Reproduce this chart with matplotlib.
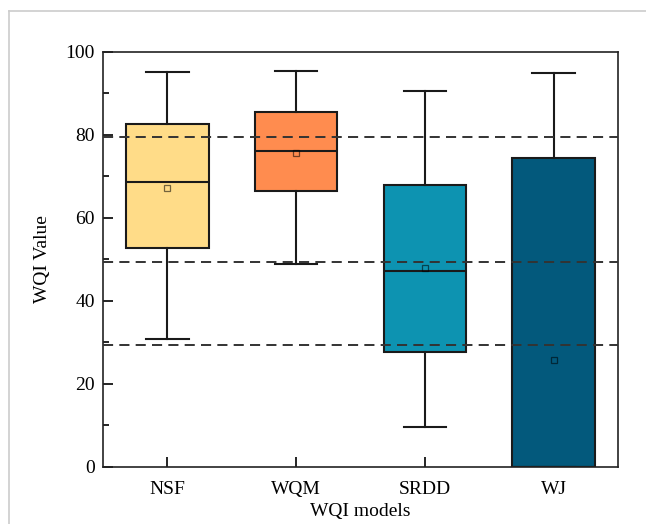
import matplotlib.pyplot as plt
from matplotlib.lines import Line2D
from matplotlib.ticker import MultipleLocator

plt.rcParams['font.family'] = ['Liberation Serif', 'DejaVu Serif']

# box statistics
models = ['NSF', 'WQM', 'SRDD', 'WJ']
whis_low = [30.8, 48.8, 9.6, 0.0]
q1 = [52.7, 66.4, 27.6, 0.0]
medians = [68.6, 76.1, 47.1, 0.0]
means = [67.2, 75.6, 47.9, 25.8]
q3 = [82.5, 85.4, 67.9, 74.4]
whis_high = [95.2, 95.4, 90.5, 94.9]
ref_lines = [79.4, 49.4, 29.3]

colors = ['#FFDC88', '#FF8C4F', '#0D93B1', '#03597C']

stats = []
for i, name in enumerate(models):
    stats.append({'label': name, 'whislo': whis_low[i], 'q1': q1[i], 'med': medians[i],
                  'mean': means[i], 'q3': q3[i], 'whishi': whis_high[i], 'fliers': []})

fig = plt.figure(figsize=(6.46, 5.24), dpi=100)
ax = fig.add_axes([0.1594, 0.1094, 0.7973, 0.7919])

edge = '#1a1a1a'
bp = ax.bxp(stats, positions=[1, 2, 3, 4], widths=0.64, patch_artist=True,
            showmeans=True, showfliers=False,
            boxprops=dict(edgecolor=edge, linewidth=1.5),
            medianprops=dict(color=edge, linewidth=1.5),
            whiskerprops=dict(color=edge, linewidth=1.5),
            capprops=dict(color=edge, linewidth=1.5),
            meanprops=dict(marker='s', markersize=4.5, markerfacecolor='none',
                           markeredgecolor=(0, 0, 0, 0.55), markeredgewidth=0.9),
            capwidths=0.33, zorder=2)
for patch, c in zip(bp['boxes'], colors):
    patch.set_facecolor(c)

for y in ref_lines:
    ax.axhline(y, color='#333333', linestyle=(0, (5.2, 3.2)), linewidth=1.4, zorder=3)

ax.set_xlim(0.5, 4.5)
ax.set_ylim(0, 100)
ax.yaxis.set_major_locator(MultipleLocator(20))
ax.yaxis.set_minor_locator(MultipleLocator(10))
ax.tick_params(axis='both', which='major', direction='in', length=7, width=1.2,
               labelsize=14, top=False, right=False)
ax.tick_params(axis='y', which='minor', direction='in', length=4.5, width=1.2)
ax.tick_params(axis='x', pad=10)
ax.tick_params(axis='y', pad=6)
for sp in ax.spines.values():
    sp.set_linewidth(1.2)
    sp.set_color('#222222')

ax.set_xlabel('WQI models', fontsize=14, labelpad=4)
ax.set_ylabel('WQI Value', fontsize=14, labelpad=10)

# thin page frame around the figure
fig.add_artist(Line2D([9 / 646, 1], [1 - 11 / 524, 1 - 11 / 524], color='#cccccc', linewidth=1.2))
fig.add_artist(Line2D([9 / 646, 9 / 646], [0, 1 - 11 / 524], color='#cccccc', linewidth=1.2))

fig.savefig('out.png', dpi=100)
